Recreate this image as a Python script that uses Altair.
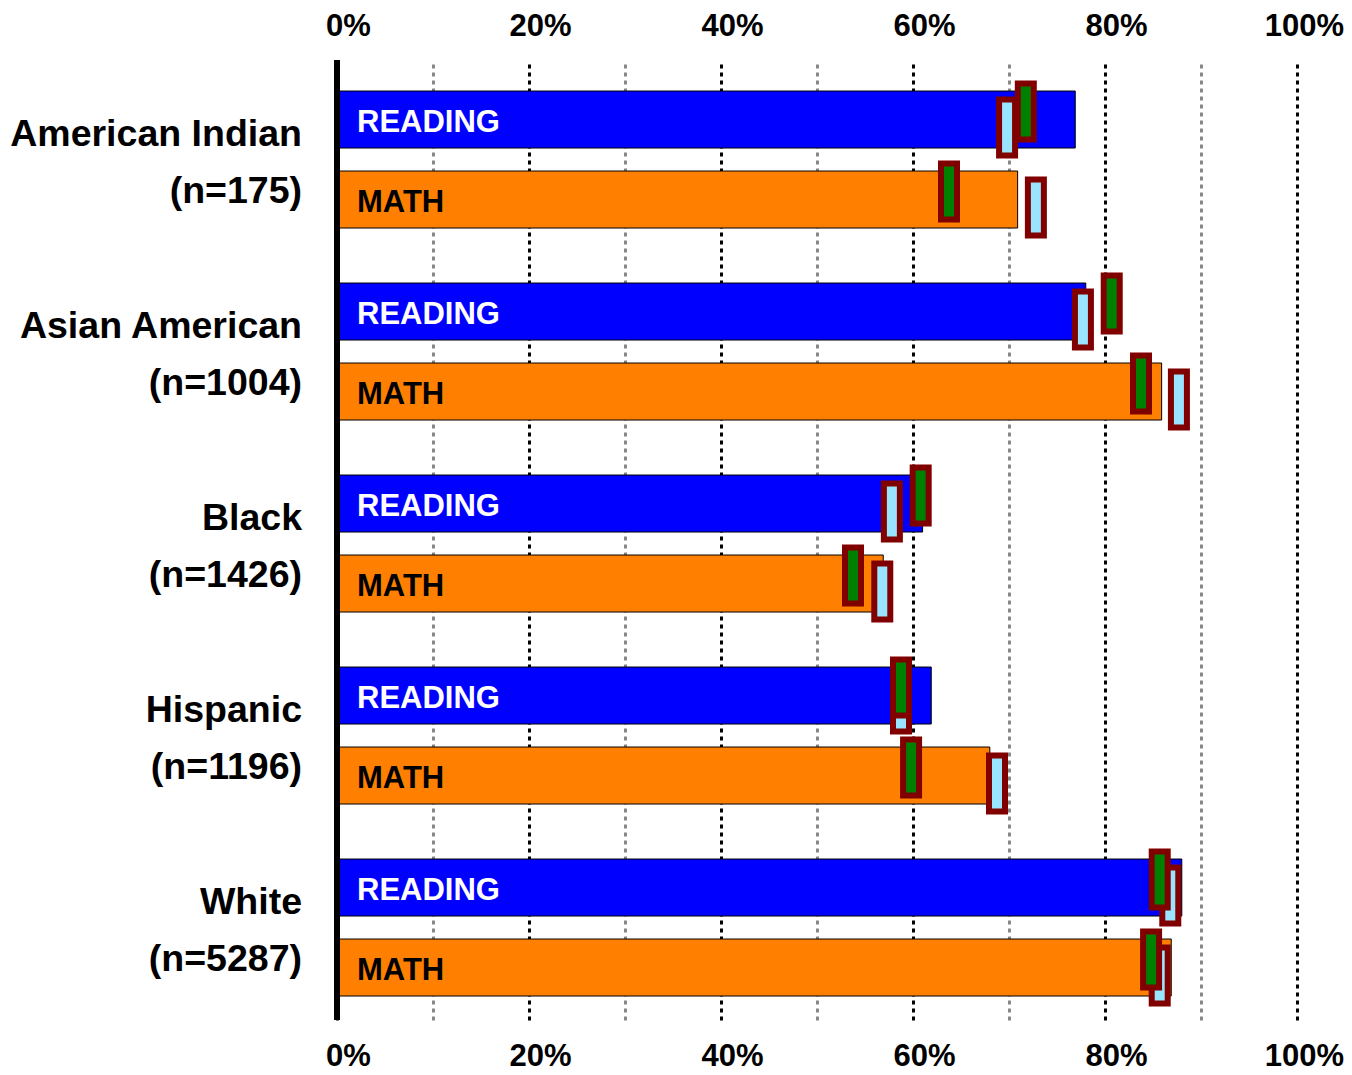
import altair as alt
import pandas as pd

groups = ["American Indian", "Asian American", "Black", "Hispanic", "White"]
counts = ["(n=175)", "(n=1004)", "(n=1426)", "(n=1196)", "(n=5287)"]
subjects = ["READING", "MATH"]

reading_pct = [76.9, 78.0, 61.0, 61.9, 88.0]
math_pct = [70.9, 85.9, 56.9, 68.0, 86.9]

reading_marker_a = [69.8, 77.7, 57.8, 58.75, 86.8]   # light blue boxes
math_marker_a = [72.8, 87.7, 56.8, 68.75, 85.7]
reading_marker_b = [71.75, 80.7, 60.8, 58.75, 85.7]  # green boxes
math_marker_b = [63.75, 83.75, 53.75, 59.8, 84.8]

x_ticks = [0, 10, 20, 30, 40, 50, 60, 70, 80, 90, 100]

rows = []
for i, g in enumerate(groups):
    rows.append(dict(group=g, count=counts[i], subject="READING", pct=reading_pct[i],
                     ma=reading_marker_a[i], mb=reading_marker_b[i], zero=0))
    rows.append(dict(group=g, count=counts[i], subject="MATH", pct=math_pct[i],
                     ma=math_marker_a[i], mb=math_marker_b[i], zero=0))
df = pd.DataFrame(rows)
df_groups = pd.DataFrame({"group": groups, "count": counts, "zero": [0] * len(groups)})

FONT = "Liberation Sans"
xscale = alt.Scale(domain=[0, 100], nice=False, zero=True)
yscale = alt.Scale(paddingInner=0, paddingOuter=0)
yoff_scale = alt.Scale(paddingInner=0.2875, paddingOuter=0.34375, align=0.564)

label_expr = "datum.value % 20 === 0 ? datum.value + '%' : ''"
label_off = {"condition": {"test": "datum.value === 100", "value": 7}, "value": 11}

bottom_axis = alt.Axis(
    title=None, orient="bottom", values=x_ticks, labelExpr=label_expr,
    domain=False, ticks=False, tickSize=0, labelFont=FONT, labelFontSize=31,
    labelFontWeight="bold", labelColor="black", labelPadding=21, labelOffset=label_off,
    grid=True, gridWidth=3, gridDash=[4, 4],
    gridColor={"condition": {"test": "datum.value % 20 === 0", "value": "black"},
               "value": "#888888"},
    labelFlush=False, labelOverlap=False,
)

top_axis = alt.Axis(
    title=None, orient="top", values=x_ticks, labelExpr=label_expr,
    domain=False, ticks=False, tickSize=0, labelFont=FONT, labelFontSize=31,
    labelFontWeight="bold", labelColor="black", labelPadding=18, labelOffset=label_off,
    grid=False, labelFlush=False, labelOverlap=False,
)

Y = alt.Y("group:N", sort=groups, scale=yscale, axis=None)
YO = alt.YOffset("subject:N", sort=subjects, scale=yoff_scale)

base = alt.Chart(df)

bars = base.mark_bar(stroke="black", strokeWidth=1).encode(
    y=Y, yOffset=YO,
    x=alt.X("pct:Q", scale=xscale, axis=bottom_axis),
    color=alt.Color("subject:N", sort=subjects,
                    scale=alt.Scale(domain=subjects, range=["#0000FF", "#FF8000"]),
                    legend=None),
)

axis_line = alt.Chart(df_groups).mark_rule(color="black", strokeWidth=6).encode(
    x=alt.X("zero:Q", scale=xscale, axis=None),
)

name_text = alt.Chart(df_groups).mark_text(
    align="right", baseline="middle", dx=-35, dy=-21, font=FONT,
    fontSize=37.5, fontWeight="bold", color="black",
).encode(
    y=Y, x=alt.X("zero:Q", scale=xscale, axis=None), text="group:N",
)

count_text = alt.Chart(df_groups).mark_text(
    align="right", baseline="middle", dx=-35, dy=35.5, font=FONT,
    fontSize=37.5, fontWeight="bold", color="black",
).encode(
    y=Y, x=alt.X("zero:Q", scale=xscale, axis=None), text="count:N",
)

texts = base.mark_text(
    align="left", baseline="middle", dx=20, dy=3.5, font=FONT,
    fontSize=31, fontWeight="bold",
).encode(
    y=Y, yOffset=YO,
    x=alt.X("zero:Q", scale=xscale, axis=None),
    text="subject:N",
    color=alt.condition(alt.datum.subject == "READING", alt.value("white"), alt.value("black")),
)

shape_a = "M-0.2857,-0.7143H0.2857V1.2857H-0.2857Z"
shape_b = "M-0.2857,-1.2857H0.2857V0.7143H-0.2857Z"

marks_a = base.mark_point(
    shape=shape_a, size=3136, filled=True, fill="#99E5FF", stroke="#800000",
    strokeWidth=6, opacity=1, strokeOpacity=1, fillOpacity=1,
).encode(
    y=Y, yOffset=YO,
    x=alt.X("ma:Q", scale=xscale, axis=top_axis),
)

marks_b = base.mark_point(
    shape=shape_b, size=3136, filled=True, fill="#008000", stroke="#800000",
    strokeWidth=6, opacity=1, strokeOpacity=1, fillOpacity=1,
).encode(
    y=Y, yOffset=YO,
    x=alt.X("mb:Q", scale=xscale, axis=None),
)

chart = alt.layer(
    bars, axis_line, name_text, count_text, texts, marks_a, marks_b
).resolve_axis(
    x="independent"
).properties(
    width=960, height=960,
    autosize=alt.AutoSizeParams(type="none"),
    padding={"left": 329, "top": 52, "right": 47, "bottom": 47},
).configure_view(stroke=None)

chart.save("out.html", embed_options={"renderer": "svg", "actions": False})
